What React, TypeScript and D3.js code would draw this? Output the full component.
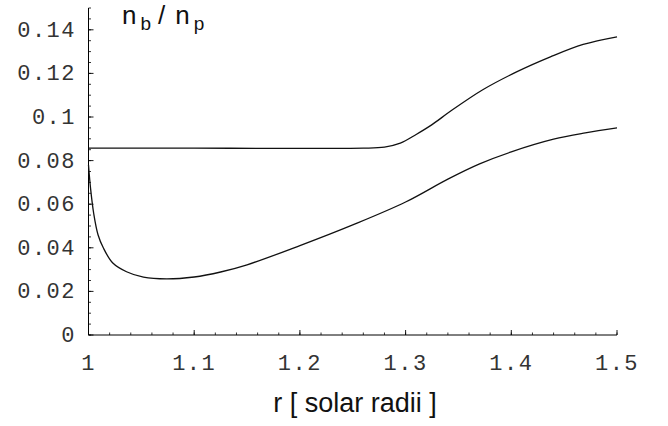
import React, { useEffect, useRef } from 'react';
import * as d3 from 'd3';

// upper curve: n_b / n_p
const upperR = [1, 1.1, 1.2, 1.26, 1.28, 1.295, 1.31, 1.325, 1.342, 1.373, 1.405, 1.437, 1.468, 1.5];
const upperV = [0.0857, 0.0857, 0.0856, 0.0857, 0.0862, 0.088, 0.092, 0.0965, 0.1025, 0.1125, 0.1207, 0.1276, 0.1333, 0.1368];

// lower curve
const lowerR = [1, 1.002, 1.005, 1.009, 1.014, 1.023, 1.036, 1.052, 1.074, 1.1, 1.125, 1.15, 1.2, 1.25, 1.3, 1.34, 1.37, 1.4, 1.44, 1.47, 1.5];
const lowerV = [0.078, 0.067, 0.0555, 0.046, 0.04, 0.033, 0.029, 0.0265, 0.0257, 0.0266, 0.0289, 0.0322, 0.041, 0.0505, 0.061, 0.0715, 0.0785, 0.084, 0.0898, 0.0927, 0.095];

const xTicks = [1, 1.1, 1.2, 1.3, 1.4, 1.5];
const xTickLabels = ['1', '1.1', '1.2', '1.3', '1.4', '1.5'];
const yTicks = [0, 0.02, 0.04, 0.06, 0.08, 0.1, 0.12, 0.14];
const yTickLabels = ['0', '0.02', '0.04', '0.06', '0.08', '0.1', '0.12', '0.14'];

const App = () => {
  const ref = useRef<SVGSVGElement>(null);
  const width = 668;
  const height = 426;

  useEffect(() => {
    const svg = d3.select(ref.current);
    svg.selectAll('*').remove();

    const x = d3.scaleLinear().domain([1, 1.5]).range([88.5, 617]);
    const y = d3.scaleLinear().domain([0, 0.15]).range([335, 8]);

    const mono = '"Liberation Mono", "Courier New", monospace';
    const sans = '"Liberation Sans", Arial, Helvetica, sans-serif';

    // axes lines
    svg.append('line')
      .attr('x1', x(1)).attr('x2', x(1.5))
      .attr('y1', y(0)).attr('y2', y(0))
      .attr('stroke', '#000').attr('stroke-width', 1);
    svg.append('line')
      .attr('x1', x(1)).attr('x2', x(1))
      .attr('y1', y(0)).attr('y2', y(0.15))
      .attr('stroke', '#000').attr('stroke-width', 1);

    // minor ticks
    const xMinor = d3.range(1, 1.5001, 0.02);
    svg.selectAll('.xminor').data(xMinor).enter().append('line')
      .attr('x1', d => x(d)).attr('x2', d => x(d))
      .attr('y1', y(0)).attr('y2', y(0) - 2.5)
      .attr('stroke', '#000').attr('stroke-width', 0.8);
    const yMinor = d3.range(0, 0.15001, 0.005);
    svg.selectAll('.yminor').data(yMinor).enter().append('line')
      .attr('x1', x(1)).attr('x2', x(1) + 2.5)
      .attr('y1', d => y(d)).attr('y2', d => y(d))
      .attr('stroke', '#000').attr('stroke-width', 0.8);

    // major ticks
    svg.selectAll('.xmajor').data(xTicks).enter().append('line')
      .attr('x1', d => x(d)).attr('x2', d => x(d))
      .attr('y1', y(0)).attr('y2', y(0) - 5)
      .attr('stroke', '#000').attr('stroke-width', 0.9);
    svg.selectAll('.ymajor').data(yTicks).enter().append('line')
      .attr('x1', x(1)).attr('x2', x(1) + 5)
      .attr('y1', d => y(d)).attr('y2', d => y(d))
      .attr('stroke', '#000').attr('stroke-width', 0.9);

    // tick labels
    svg.selectAll('.xlab').data(xTicks).enter().append('text')
      .text((_, i) => xTickLabels[i])
      .attr('x', d => x(d))
      .attr('y', 370)
      .attr('text-anchor', 'middle')
      .attr('font-family', mono)
      .attr('font-size', '22px')
      .attr('letter-spacing', '1.5px')
      .attr('fill', '#333');
    svg.selectAll('.ylab').data(yTicks).enter().append('text')
      .text((_, i) => yTickLabels[i])
      .attr('x', 76)
      .attr('y', d => y(d) + 7)
      .attr('text-anchor', 'end')
      .attr('font-family', mono)
      .attr('font-size', '22px')
      .attr('letter-spacing', '1.5px')
      .attr('fill', '#333');

    // curves
    const line = d3.line<[number, number]>()
      .x(d => x(d[0]))
      .y(d => y(d[1]))
      .curve(d3.curveCatmullRom.alpha(0.5));
    const upper: [number, number][] = upperR.map((r, i) => [r, upperV[i]]);
    const lower: [number, number][] = lowerR.map((r, i) => [r, lowerV[i]]);
    [upper, lower].forEach(pts => {
      svg.append('path')
        .attr('d', line(pts))
        .attr('fill', 'none')
        .attr('stroke', '#111')
        .attr('stroke-width', 1.3);
    });

    // title n_b / n_p
    const title = svg.append('text')
      .attr('x', 122).attr('y', 24)
      .attr('font-family', sans)
      .attr('font-size', '26px')
      .attr('fill', '#111');
    title.append('tspan').text('n');
    title.append('tspan').text('b').attr('font-size', '19px').attr('dx', 4).attr('dy', 6);
    title.append('tspan').text('/').attr('dx', 7).attr('dy', -6);
    title.append('tspan').text('n').attr('dx', 10);
    title.append('tspan').text('p').attr('font-size', '19px').attr('dx', 4).attr('dy', 6);

    // x axis title
    svg.append('text')
      .text('r [ solar radii ]')
      .attr('x', 355).attr('y', 412)
      .attr('text-anchor', 'middle')
      .attr('font-family', sans)
      .attr('font-size', '27px')
      .attr('fill', '#111');
  }, []);

  return (
    <svg
      ref={ref}
      width={width}
      height={height}
      style={{ position: 'absolute', left: 0, top: 0, background: '#fff' }}
    />
  );
};

export default App;
